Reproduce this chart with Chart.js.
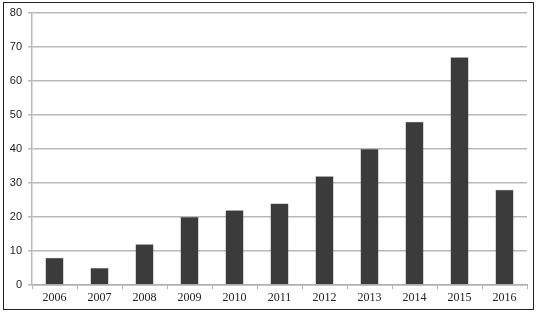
<!DOCTYPE html>
<html>
<head>
<meta charset="utf-8">
<script src="https://cdn.jsdelivr.net/npm/chart.js@4/dist/chart.umd.min.js"></script>
<style>
    html, body { margin: 0; padding: 0; background: #fff; }
    #wrap { position: relative; width: 536px; height: 314px; }
    #frame {
        position: absolute; left: 3px; top: 2px; width: 529px; height: 306px;
        border: 1.5px solid #222; pointer-events: none;
    }
    canvas { position: absolute; left: 0; top: 0; }
</style>
</head>
<body>
<div id="wrap">
    <canvas id="myChart" width="536" height="314"></canvas>
    <div id="frame"></div>
</div>
<script>
const years = ['2006', '2007', '2008', '2009', '2010', '2011', '2012', '2013', '2014', '2015', '2016'];
const counts = [8, 5, 12, 20, 22, 24, 32, 40, 48, 67, 28];
const yTicks = [0, 10, 20, 30, 40, 50, 60, 70, 80];

const ctx = document.getElementById('myChart').getContext('2d');
const chart = new Chart(ctx, {
    type: 'bar',
    data: {
        labels: years,
        datasets: [{
            data: counts,
            backgroundColor: '#3b3b3b',
            borderColor: '#555',
            borderWidth: 0.5,
            barPercentage: 0.4,
            categoryPercentage: 1.0
        }]
    },
    options: {
        responsive: false,
        animation: false,
        layout: {
            padding: { top: 13, right: 9, left: 0, bottom: 0 }
        },
        plugins: {
            legend: { display: false },
            tooltip: { enabled: false }
        },
        scales: {
            x: {
                grid: {
                    offset: true,
                    drawOnChartArea: false,
                    drawTicks: true,
                    tickLength: 4,
                    color: '#b0b0b0',
                    lineWidth: 1
                },
                border: { color: '#b0b0b0', width: 1.5 },
                ticks: {
                    font: { family: 'Liberation Serif', size: 12 },
                    color: '#222',
                    padding: 2,
                    maxRotation: 0
                },
                afterFit: function (scale) { scale.height = 29; }
            },
            y: {
                min: 0,
                max: 80,
                afterBuildTicks: function (scale) {
                    scale.ticks = yTicks.map(v => ({ value: v }));
                },
                grid: {
                    color: '#b8b8b8',
                    lineWidth: 1.5,
                    tickLength: 4
                },
                border: { color: '#b8b8b8', width: 1.5 },
                ticks: {
                    font: { family: 'Liberation Sans', size: 11 },
                    color: '#222',
                    padding: 6
                },
                afterFit: function (scale) { scale.width = 32; }
            }
        }
    }
});
</script>
</body>
</html>
